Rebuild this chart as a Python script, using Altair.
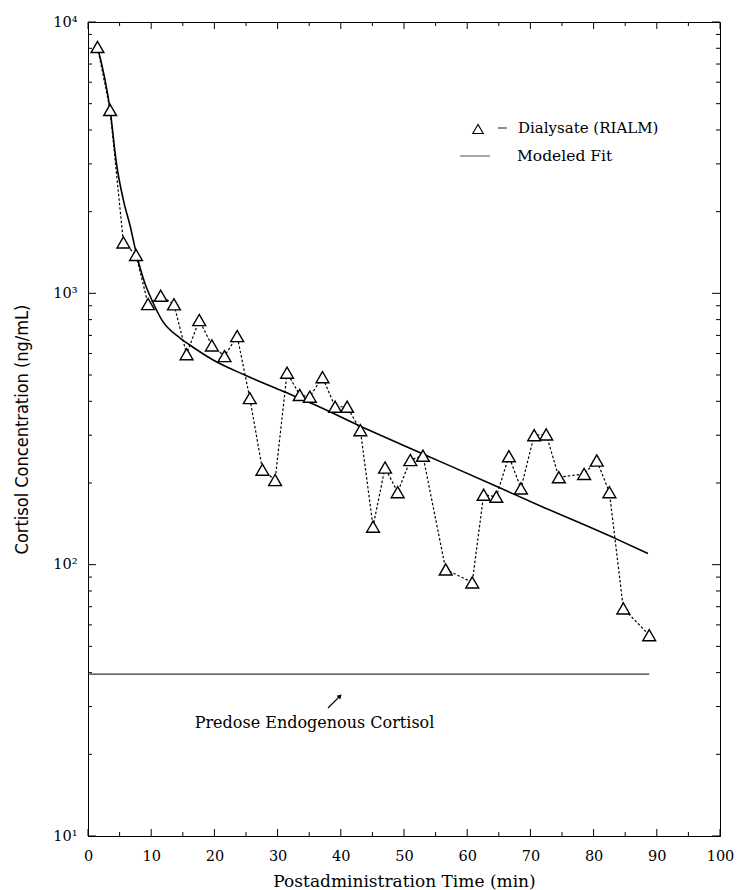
import altair as alt
import pandas as pd

# ---- data ----
obs_t = [1.5, 3.5, 5.6, 7.6, 9.5, 11.5, 13.6, 15.6, 17.6, 19.6, 21.6, 23.6, 25.6, 27.6,
         29.6, 31.5, 33.5, 35.1, 37.1, 39.1, 41.0, 43.1, 45.1, 47.0, 49.0, 51.0, 53.0,
         56.6, 60.8, 62.6, 64.6, 66.6, 68.5, 70.6, 72.5, 74.5, 78.5, 80.5, 82.5, 84.7, 88.8]
obs_v = [8090, 4740, 1540, 1385, 913, 980, 911, 597, 797, 643, 587, 696, 411, 224,
         205, 510, 422, 416, 491, 382, 382, 313, 138, 228, 185, 243, 252,
         96, 86, 181, 178, 251, 191, 300, 302, 210, 216, 242, 185, 69, 55]

fit_t = [1.5, 3.5, 4.5, 5.6, 6.7, 7.7, 9.0, 10.1, 11.7, 14.6, 16.1, 19.8, 24.8, 30.4,
         35.7, 43.2, 53.0, 64.7, 71.5, 83.4, 88.6]
fit_v = [8100, 4740, 3015, 2207, 1760, 1384, 1089, 945, 797, 683, 645, 568, 500, 440,
         390, 323, 256, 194, 165, 125, 110]

base_t = [0.2, 88.8]
base_v = [39.5, 39.5]

x_major = [0, 10, 20, 30, 40, 50, 60, 70, 80, 90, 100]
x_minor = [5, 15, 25, 35, 45, 55, 65, 75, 85, 95]
y_major = [10, 100, 1000, 10000]
y_major_labels = ["10\u00b9", "10\u00b2", "10\u00b3", "10\u2074"]
y_minor = [20, 30, 40, 50, 60, 70, 80, 90,
           200, 300, 400, 500, 600, 700, 800, 900,
           2000, 3000, 4000, 5000, 6000, 7000, 8000, 9000]

legend_labels = ["Dialysate (RIALM)", "Modeled Fit"]
annotation_text = ["Predose Endogenous Cortisol"]

# ---- layout ----
W, H = 632, 814
SERIF = "DejaVu Serif"
NARROW = "DejaVu Sans Condensed, Liberation Sans Narrow, Liberation Sans"
TXT = 16

label_expr = " : ".join(
    [f"datum.value == {v} ? '{l}'" for v, l in zip(y_major, y_major_labels)]
) + " : ''"

x_scale = alt.Scale(domain=[0, 100], nice=False, zero=False)
y_scale = alt.Scale(type="log", domain=[10, 10000], nice=False)

x_axis = alt.Axis(values=x_major, format="d", ticks=False, tickSize=0, grid=False,
                  labelFont=SERIF, labelFontSize=14.5, labelPadding=13,
                  labelColor="black", titleFont=SERIF, titleFontSize=17,
                  titleFontWeight="normal", titleColor="black",
                  titleY=45, titleBaseline="middle",
                  domainColor="black", labelFlush=False)
y_axis = alt.Axis(values=y_major, labelExpr=label_expr, ticks=False, tickSize=0,
                  grid=False, labelFont=SERIF, labelFontSize=14.5, labelPadding=11,
                  labelColor="black", titleFont=NARROW, titleFontSize=18,
                  titleFontWeight="normal", titleColor="black",
                  titleX=-66, titleY=H / 2, titleAngle=270, titleAlign="center",
                  titleBaseline="middle",
                  domainColor="black", labelFlush=False)

X = alt.X("t:Q", scale=x_scale, axis=x_axis, title="Postadministration Time (min)")
Y = alt.Y("v:Q", scale=y_scale, axis=y_axis, title="Cortisol Concentration (ng/mL)")

obs = pd.DataFrame({"t": obs_t, "v": obs_v})
fit = pd.DataFrame({"t": fit_t, "v": fit_v})
base = pd.DataFrame({"t": base_t, "v": base_v})

obs_line = alt.Chart(obs).mark_line(color="black", strokeWidth=1.2,
                                    strokeDash=[2.5, 2]).encode(x=X, y=Y)
fit_line = alt.Chart(fit).mark_line(color="black", strokeWidth=1.6,
                                    interpolate="monotone").encode(x=X, y=Y)
base_line = alt.Chart(base).mark_line(color="#333333", strokeWidth=1.1).encode(x=X, y=Y)
obs_pts = alt.Chart(obs).mark_point(shape="triangle-up", size=165, filled=True,
                                    fill="white", stroke="black", strokeWidth=1.4,
                                    opacity=1).encode(x=X, y=Y)

# inward tick marks on all four sides
xmaj = pd.DataFrame({"t": x_major})
xmin = pd.DataFrame({"t": x_minor})
ymaj = pd.DataFrame({"v": y_major})
ymin = pd.DataFrame({"v": y_minor})
tick_style = dict(color="black", strokeWidth=1)
ticks = [
    alt.Chart(xmaj).mark_rule(**tick_style).encode(x=X, y=alt.value(H), y2=alt.value(H - 7)),
    alt.Chart(xmin).mark_rule(**tick_style).encode(x=X, y=alt.value(H), y2=alt.value(H - 4)),
    alt.Chart(xmaj).mark_rule(**tick_style).encode(x=X, y=alt.value(0), y2=alt.value(7)),
    alt.Chart(xmin).mark_rule(**tick_style).encode(x=X, y=alt.value(0), y2=alt.value(4)),
    alt.Chart(ymaj).mark_rule(**tick_style).encode(y=Y, x=alt.value(0), x2=alt.value(8)),
    alt.Chart(ymin).mark_rule(**tick_style).encode(y=Y, x=alt.value(0), x2=alt.value(4)),
    alt.Chart(ymaj).mark_rule(**tick_style).encode(y=Y, x=alt.value(W), x2=alt.value(W - 8)),
    alt.Chart(ymin).mark_rule(**tick_style).encode(y=Y, x=alt.value(W), x2=alt.value(W - 4)),
]

# legend
leg1 = pd.DataFrame({"label": [legend_labels[0]]})
leg2 = pd.DataFrame({"label": [legend_labels[1]]})
legend = [
    alt.Chart(leg1).mark_point(shape="triangle-up", size=110, filled=False,
                               color="black", strokeWidth=1.1, opacity=1).encode(
        x=alt.value(390), y=alt.value(107)),
    alt.Chart(leg1).mark_rule(color="#555555", strokeWidth=1.3).encode(
        x=alt.value(410), x2=alt.value(419), y=alt.value(106)),
    alt.Chart(leg1).mark_text(align="left", baseline="middle", font=SERIF,
                              fontSize=15, color="black").encode(
        x=alt.value(430), y=alt.value(106), text="label:N"),
    alt.Chart(leg2).mark_rule(color="#555555", strokeWidth=1).encode(
        x=alt.value(372), x2=alt.value(402), y=alt.value(134)),
    alt.Chart(leg2).mark_text(align="left", baseline="middle", font=SERIF,
                              fontSize=15.5, color="black").encode(
        x=alt.value(429), y=alt.value(134), text="label:N"),
]

# annotation with arrow
ann = pd.DataFrame({"label": annotation_text})
annotation = [
    alt.Chart(ann).mark_text(align="center", baseline="middle", font=SERIF,
                             fontSize=TXT, color="black").encode(
        x=alt.value(226.5), y=alt.value(701), text="label:N"),
    alt.Chart(ann).mark_rule(color="black", strokeWidth=1.1).encode(
        x=alt.value(240), y=alt.value(686), x2=alt.value(251), y2=alt.value(675)),
    alt.Chart(ann).mark_point(shape="triangle-up", angle=45, size=28, filled=True,
                              color="black", opacity=1).encode(
        x=alt.value(252), y=alt.value(674)),
]

chart = alt.layer(
    base_line, fit_line, obs_line, obs_pts, *ticks, *legend, *annotation
).properties(
    width=W, height=H,
    padding={"left": 88, "top": 22, "right": 17, "bottom": 54},
    autosize=alt.AutoSizeParams(type="none"),
    background="white",
).configure_view(
    stroke="black", strokeWidth=1
).configure_axis(
    domainWidth=1
)

chart.save("out.html", embed_options={"renderer": "svg", "actions": False})
